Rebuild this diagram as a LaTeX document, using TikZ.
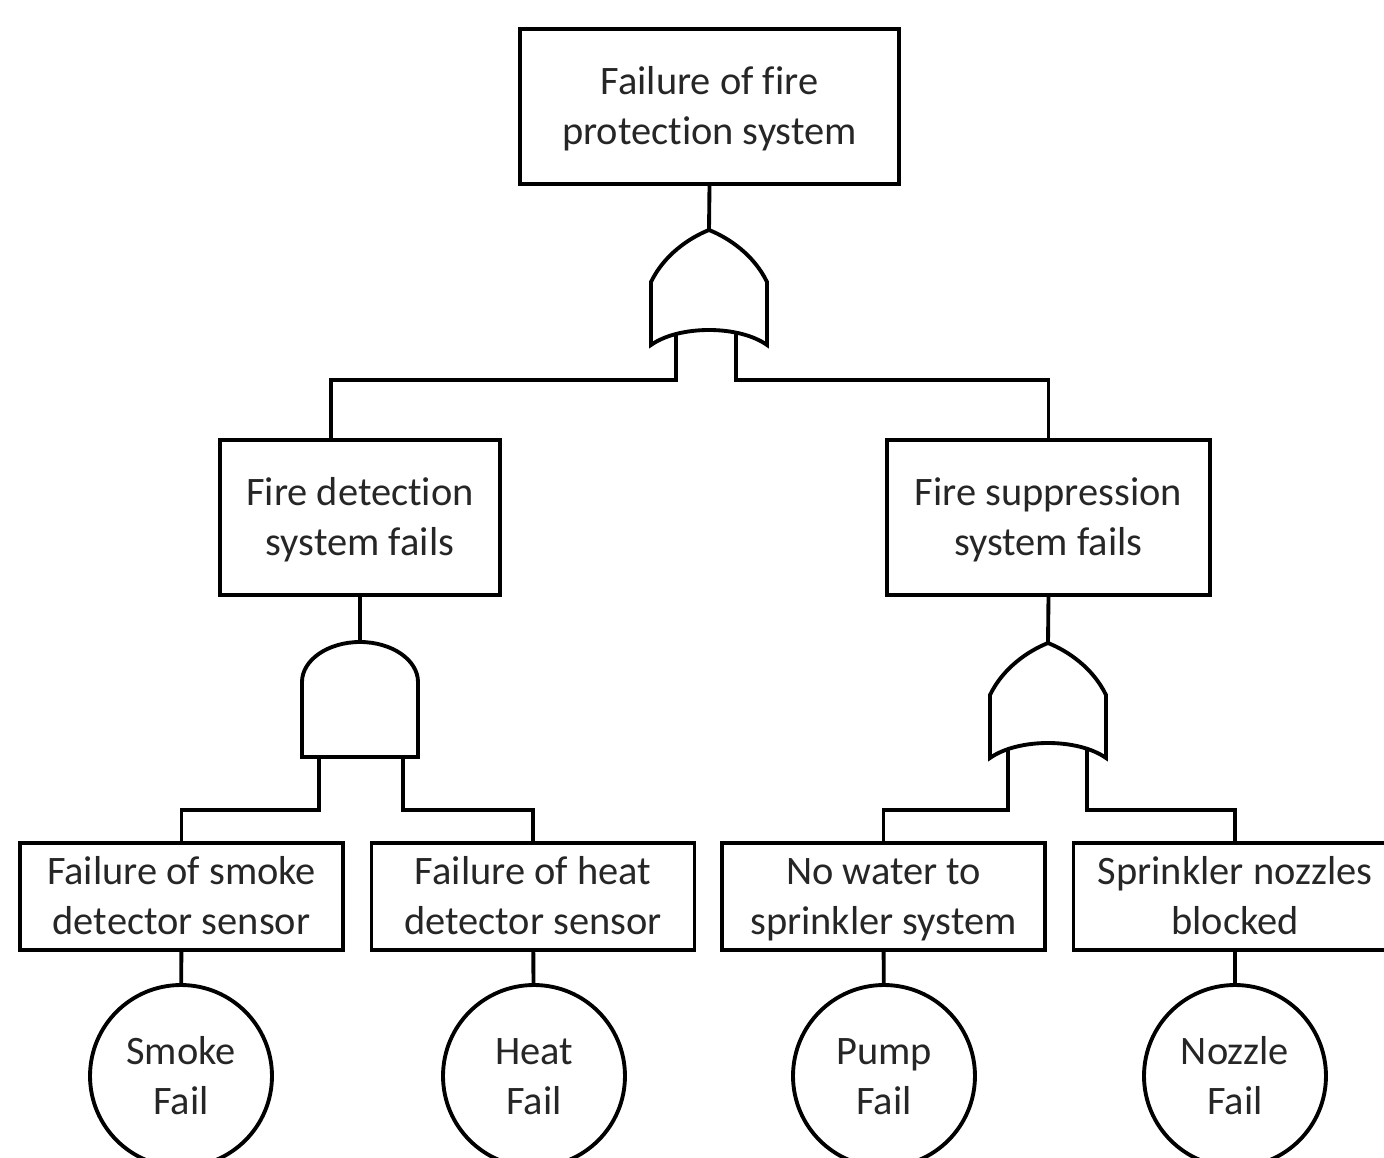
\documentclass[tikz,border=0pt]{standalone}
\usepackage{fontspec}
\setmainfont{Carlito}[Ligatures={NoCommon}]
\usetikzlibrary{positioning, calc}

\tikzset{
  orgate/.pic={
    \draw[gate] (-58,115) -- (-58,52) .. controls (-45,25) and (-20,8) .. (0,0)
      .. controls (20,8) and (45,25) .. (58,52) -- (58,115)
      .. controls (30,95) and (-30,95) .. cycle;
    \coordinate (-top) at (0,0);
  },
  andgate/.pic={
    \draw[gate] (-58,115) -- (-58,40) .. controls (-58,18) and (-32,0) .. (0,0)
      .. controls (32,0) and (58,18) .. (58,40) -- (58,115) -- cycle;
    \coordinate (-top) at (0,0);
  }
}

\begin{document}
\begin{tikzpicture}[
    x=0.02cm, y=-0.02cm,
    every node/.style={font=\fontsize{23}{28.5}\selectfont, text=black!85, align=flush center,
      execute at begin node=\strut, execute at end node=\rule[-5pt]{0pt}{0pt}},
    box/.style={draw, line width=2.2pt, minimum height=3.1cm},
    basic/.style={draw, line width=2.2pt, text width=5.8cm, minimum width=6.46cm, minimum height=2.14cm},
    event/.style={draw, circle, line width=2.2pt, text width=2.4cm, minimum size=3.64cm},
    gate/.style={line width=2.2pt, fill=white},
    wire/.style={line width=2.2pt}
  ]
  \useasboundingbox (0,0) rectangle (1384,1158);

  % events
  \node[box, text width=6.5cm, minimum width=7.58cm] (top) at (709.5,106.5) {Failure of fire\\protection system};
  \node[box, text width=5cm, minimum width=5.6cm] (det) at (360,517.5) {Fire detection\\system fails};
  \node[box, text width=5.8cm, minimum width=6.46cm] (sup) at (1048.5,517.5) {Fire suppression\\system fails};

  \node[basic] (smoke) at (181.5,896.5) {Failure of smoke\\detector sensor};
  \node[basic] (heat) at (533,896.5) {Failure of heat\\detector sensor};
  \node[basic] (water) at (883.5,896.5) {No water to\\sprinkler system};
  \node[basic] (nozzle) at (1235,896.5) {Sprinkler nozzles\\blocked};

  \node[event] (smokef) at (181,1076) {Smoke\\Fail};
  \node[event] (heatf) at (534,1076) {Heat\\Fail};
  \node[event] (pumpf) at (884,1076) {Pump\\Fail};
  \node[event] (nozzlef) at (1235,1076) {Nozzle\\Fail};

  % gate inputs
  \coordinate (or1l) at (676,330);
  \coordinate (or1r) at (736,330);
  \coordinate (and1l) at (319,740);
  \coordinate (and1r) at (403,740);
  \coordinate (or2l) at (1008,740);
  \coordinate (or2r) at (1087,740);

  % wires
  \draw[wire] (or1l) -- ++(0,50) -| ($(det.north)+(-29,0)$);
  \draw[wire] (or1r) -- ++(0,50) -| (sup.north);
  \draw[wire] (and1l) -- ++(0,70) -| (smoke.north);
  \draw[wire] (and1r) -- ++(0,70) -| (heat.north);
  \draw[wire] (or2l) -- ++(0,70) -| (water.north);
  \draw[wire] (or2r) -- ++(0,70) -| (nozzle.north);

  % gates
  \pic (or1) at (709,230) {orgate};
  \pic (and1) at (360,642) {andgate};
  \pic (or2) at (1048,643) {orgate};

  \draw[wire] (top.south) -- (or1-top);
  \draw[wire] (det.south) -- (and1-top);
  \draw[wire] (sup.south) -- (or2-top);

  \draw[wire] (smoke) -- (smokef);
  \draw[wire] (heat) -- (heatf);
  \draw[wire] (water) -- (pumpf);
  \draw[wire] (nozzle) -- (nozzlef);
\end{tikzpicture}
\end{document}
